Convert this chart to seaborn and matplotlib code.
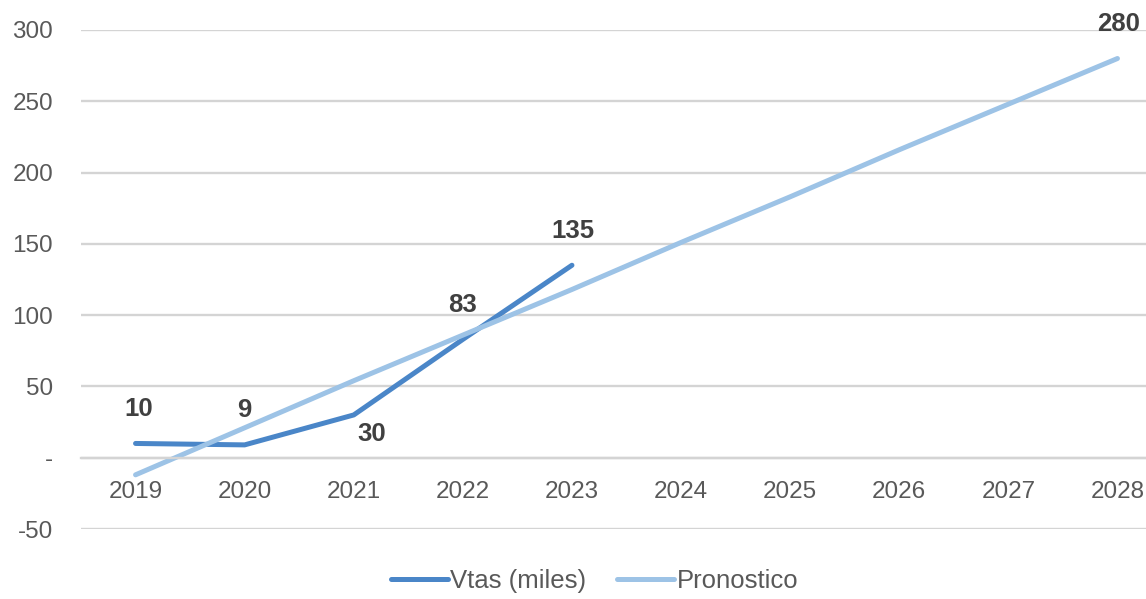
import matplotlib
matplotlib.use("Agg")
import matplotlib.pyplot as plt
import matplotlib.ticker as mticker
import pandas as pd
import seaborn as sns

# Sales (thousands) and the linear forecast, by year
years = [2019, 2020, 2021, 2022, 2023, 2024, 2025, 2026, 2027, 2028]
ventas_years = [2019, 2020, 2021, 2022, 2023]
ventas = [10, 9, 30, 83, 135]
pronostico = [-12, 21, 54, 86, 118, 151, 183, 216, 248, 280]

# Value labels: (year, value, offset in points)
label_years = [2019, 2020, 2021, 2022, 2023, 2028]
label_values = [10, 9, 30, 83, 135, 280]
label_offsets = [(2, 25), (0, 25), (13, -14), (0, 25), (1, 25), (1, 25)]

sns.set_style("white")
plt.rcParams["font.family"] = ["Liberation Sans", "DejaVu Sans"]

df = pd.concat([
    pd.DataFrame({"Año": ventas_years, "Valor": ventas, "Serie": "Vtas (miles)"}),
    pd.DataFrame({"Año": years, "Valor": pronostico, "Serie": "Pronostico"}),
])

fig = plt.figure(figsize=(11.46, 5.99), dpi=100)
ax = fig.add_axes([81 / 1146, 70 / 599, 1091 / 1146, 499 / 599])

palette = {"Vtas (miles)": "#4a86c8", "Pronostico": "#9dc3e6"}
sns.lineplot(data=df, x="Año", y="Valor", hue="Serie", palette=palette,
             hue_order=["Vtas (miles)", "Pronostico"], ax=ax, linewidth=3.6,
             solid_capstyle="round", legend=True)

ax.set_xlim(2018.5, 2028.5)
ax.set_ylim(-50, 300)
ax.set_yticks(range(-50, 301, 50))
ax.yaxis.set_major_formatter(mticker.FuncFormatter(lambda v, p: "-" if v == 0 else f"{v:.0f}"))
ax.set_xticks(years)
ax.set_xticklabels([str(y) for y in years])
ax.set_xlabel("")
ax.set_ylabel("")

ax.grid(axis="y", color="#d4d4d4", linewidth=1.7)
ax.grid(axis="x", visible=False)
ax.set_axisbelow(True)
for side in ["top", "right", "left"]:
    ax.spines[side].set_visible(False)
ax.spines["bottom"].set_position(("data", 0))
ax.spines["bottom"].set_color("#d4d4d4")
ax.spines["bottom"].set_linewidth(1.7)

ax.tick_params(axis="y", length=0, pad=20, labelsize=17.5, labelcolor="#595959")
ax.tick_params(axis="x", length=0, pad=17, labelsize=17.5, labelcolor="#595959")

for yr, val, off in zip(label_years, label_values, label_offsets):
    ax.annotate(str(val), xy=(yr, val), xytext=off, textcoords="offset points",
                ha="center", va="center", fontsize=18.5, fontweight="bold",
                color="#404040", annotation_clip=False)

ax.get_legend().remove()
handles, labels = ax.get_legend_handles_labels()
fig.legend(handles, labels, loc="center", bbox_to_anchor=(0.519, 0.03),
           ncol=2, frameon=False, fontsize=18.5, handlelength=2.2,
           handletextpad=0.1, columnspacing=1.2, labelcolor="#595959")

fig.savefig("out.png", dpi=100)
